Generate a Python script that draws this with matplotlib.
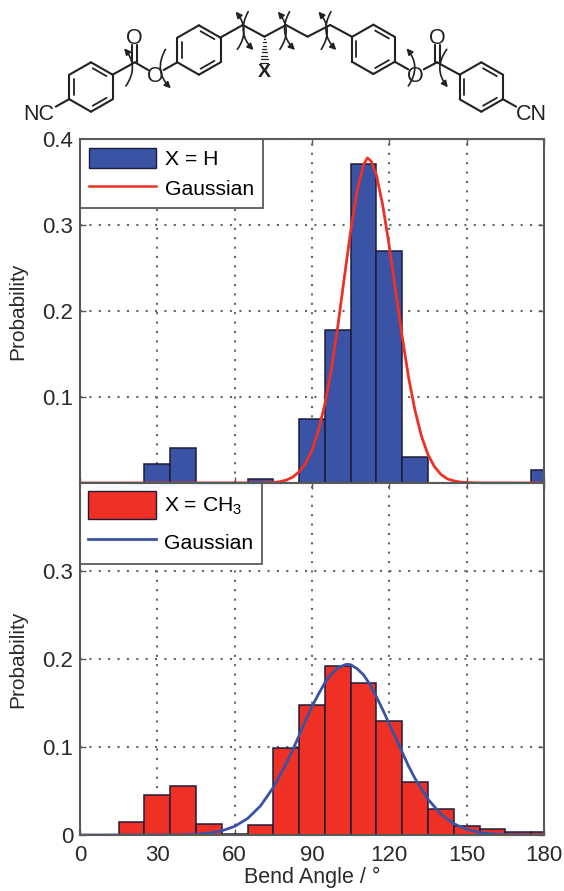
import numpy as np
import matplotlib
matplotlib.use('Agg')
import matplotlib.pyplot as plt
from matplotlib.patches import FancyArrowPatch, Patch
from matplotlib.lines import Line2D

plt.rcParams['font.family'] = ['Liberation Sans', 'DejaVu Sans']
plt.rcParams['mathtext.fontset'] = 'custom'
plt.rcParams['mathtext.rm'] = 'Liberation Sans'

BLUE = '#3a53a4'
RED = '#ee3124'
EDGE = '#1c1c3a'
GREY = '#5a5a5a'
INK = '#2a2a2a'

# histogram, X = H
h_centers = [30, 40, 70, 90, 100, 110, 120, 130, 180]
h_probs = [0.022, 0.041, 0.005, 0.074, 0.178, 0.371, 0.270, 0.030, 0.015]

# histogram, X = CH3
me_centers = [20, 30, 40, 50, 60, 70, 80, 90, 100, 110, 120, 130, 140, 150, 160, 170, 180]
me_probs = [0.015, 0.045, 0.056, 0.013, 0.001, 0.011, 0.099, 0.148, 0.192, 0.173,
            0.129, 0.060, 0.030, 0.010, 0.007, 0.003, 0.003]

# gaussian curves
h_gx = [0, 70, 75, 77.5, 80, 82.5, 85, 87.5, 90, 92.5, 95, 97.5, 100, 102.5, 105, 107.5,
        110, 111.5, 113, 115, 117.5, 120, 122.5, 125, 127.5, 130, 132.5, 135, 137.5, 140,
        142.5, 145, 147.5, 150, 155, 180]
h_gy = [0, 0.0001, 0.0007, 0.0015, 0.0033, 0.0068, 0.013, 0.0226, 0.038, 0.061, 0.092,
        0.132, 0.182, 0.238, 0.293, 0.340, 0.370, 0.378, 0.374, 0.358, 0.322, 0.275, 0.222,
        0.170, 0.122, 0.084, 0.054, 0.033, 0.019, 0.010, 0.0048, 0.0025, 0.0011,
        0.0005, 0.0001, 0]

me_gx = [0, 30, 40, 45, 50, 55, 60, 65, 70, 75, 80, 82.5, 85, 87.5, 90, 92.5, 95, 97.5,
         100, 102.5, 103.5, 105, 107.5, 110, 112.5, 115, 117.5, 120, 122.5, 125, 127.5,
         130, 135, 140, 145, 150, 155, 160, 165, 170, 180]
me_gy = [0, 0.00004, 0.0003, 0.0009, 0.0021, 0.0047, 0.0098, 0.0187, 0.033, 0.054, 0.081,
         0.0967, 0.113, 0.130, 0.146, 0.160, 0.173, 0.183, 0.190, 0.193, 0.194, 0.1935,
         0.189, 0.182, 0.171, 0.157, 0.142, 0.126, 0.110, 0.094, 0.078, 0.064, 0.0406,
         0.0237, 0.0128, 0.0064, 0.003, 0.0013, 0.0005, 0.0002, 0]

x_ticks = [0, 30, 60, 90, 120, 150, 180]
x_labels = ['0', '30', '60', '90', '120', '150', '180']
W, H = 564, 891


def rect(x0, y0, x1, y1):
    return [x0 / W, 1 - y1 / H, (x1 - x0) / W, (y1 - y0) / H]


def panel(ax, centers, probs, gx, gy, bar_col, line_col, yticks, ylabels):
    ax.bar(centers, probs, width=10, color=bar_col, edgecolor=EDGE, lw=1.1, zorder=2)
    ax.plot(gx, gy, color=line_col, lw=2, zorder=3)
    ax.set_xlim(0, 180)
    ax.set_ylim(0, 0.4)
    ax.set_xticks(x_ticks)
    ax.set_yticks(yticks)
    ax.set_yticklabels(ylabels, fontsize=16, color=INK)
    ax.grid(True, color='#666666', lw=1.5, ls=(0, (1, 3.5)), zorder=1)
    ax.set_axisbelow(True)
    ax.tick_params(direction='in', top=True, right=True, length=4, width=1,
                   color=GREY, pad=5)
    for s in ax.spines.values():
        s.set_color(GREY)
        s.set_linewidth(1.5)
        s.set_zorder(5)
    ax.set_ylabel('Probability', fontsize=15, color=INK)
    return ax


fig = plt.figure(figsize=(W / 100, H / 100), dpi=100)

ax1 = fig.add_axes(rect(80, 139, 544, 483))
panel(ax1, h_centers, h_probs, h_gx, h_gy, BLUE, RED,
      [0.1, 0.2, 0.3, 0.4], ['0.1', '0.2', '0.3', '0.4'])
ax1.set_xticklabels([])
ax1.yaxis.set_label_coords(-0.114, 0.5)
leg1 = ax1.legend(handles=[Patch(facecolor=BLUE, edgecolor=EDGE, label='X = H'),
                           Line2D([], [], color=RED, lw=1.8, label='Gaussian')],
                  loc='upper left', borderaxespad=0, fancybox=False, framealpha=1,
                  edgecolor=GREY, fontsize=15.2, handlelength=3.2, handleheight=1.1,
                  handletextpad=0.42, labelspacing=0.4, borderpad=0.42)
leg1.get_frame().set_linewidth(1.3)
leg1.set_zorder(4)

ax2 = fig.add_axes(rect(80, 483, 544, 835))
panel(ax2, me_centers, me_probs, me_gx, me_gy, RED, BLUE,
      [0, 0.1, 0.2, 0.3], ['0', '0.1', '0.2', '0.3'])
ax2.set_xticklabels(x_labels, fontsize=16, color=INK)
ax2.tick_params(axis='x', pad=7)
ax2.set_xlabel('Bend Angle / °', fontsize=15.5, color=INK, labelpad=1)
ax2.yaxis.set_label_coords(-0.114, 0.5)
leg2 = ax2.legend(handles=[Patch(facecolor=RED, edgecolor=EDGE, label='X = CH$_3$'),
                           Line2D([], [], color=BLUE, lw=2, label='Gaussian')],
                  loc='upper left', borderaxespad=0, fancybox=False, framealpha=1,
                  edgecolor=GREY, fontsize=15.2, handlelength=3.2, handleheight=1.65,
                  handletextpad=0.42, labelspacing=0.45, borderpad=0.38)
leg2.get_frame().set_linewidth(1.3)
leg2.set_zorder(4)

# molecule, in pixels of the enlarged crop (x and y scaled differently)
mol = fig.add_axes([0, 0, 1, 1], facecolor='none')
mol.set_xlim(0, W * 2.78)
mol.set_ylim(H * 3, 0)
mol.axis('off')
mol.set_zorder(10)


def bond(p, q, lw=1.5):
    mol.plot([p[0], q[0]], [p[1], q[1]], color='#222222', lw=lw, solid_capstyle='round')


def ring(cx, cy, dbl):
    pts = [(cx, cy - 74), (cx + 60, cy - 37), (cx + 60, cy + 37),
           (cx, cy + 74), (cx - 60, cy + 37), (cx - 60, cy - 37)]
    for i in range(6):
        bond(pts[i], pts[(i + 1) % 6])
    for i in dbl:
        a, b = np.array(pts[i]), np.array(pts[(i + 1) % 6])
        c = np.array([cx, cy])
        a2 = a + (c - a) * 0.2 + (b - a) * 0.08
        b2 = b + (c - b) * 0.2 + (a - b) * 0.08
        bond(a2, b2, 1.3)


ring(253, 261, [0, 2, 4])
ring(553, 150, [0, 2, 4])
ring(1038, 148, [0, 2, 4])
ring(1338, 261, [0, 2, 4])

chain = [(612, 113), (675, 75), (735, 110), (795, 75), (855, 110), (918, 75), (978, 110)]
for a, b in zip(chain[:-1], chain[1:]):
    bond(a, b)

bond((193, 297), (155, 320))
bond((313, 224), (375, 187))
bond((375, 187), (412, 210))
bond((455, 210), (493, 187))
bond((368, 187), (368, 135))
bond((382, 187), (382, 135))
bond((1097, 185), (1135, 208))
bond((1178, 208), (1215, 187))
bond((1208, 187), (1208, 135))
bond((1222, 187), (1222, 135))
bond((1215, 187), (1278, 224))
bond((1397, 297), (1435, 320))

# hashed wedge to X
for frac in np.linspace(0, 1, 8):
    w = 2 + 9 * frac
    y = 116 + 72 * frac
    bond((735 - w, y), (735 + w, y), 0.9)

txt = dict(fontsize=15.5, color='#222222', ha='center', va='center')
mol.text(108, 342, 'NC', **txt)
mol.text(373, 116, 'O', **txt)
mol.text(432, 230, 'O', **txt)
mol.text(735, 218, 'X', fontsize=14, fontweight='bold', color='#222222', ha='center', va='center')
mol.text(1155, 230, 'O', **txt)
mol.text(1216, 116, 'O', **txt)
mol.text(1478, 342, 'CN', **txt)

# torsion arrows: start, end, bend
arcs = [((350, 258), (345, 145), 0.38), ((460, 148), (475, 265), 0.38),
        ((660, 148), (655, 35), 0.38), ((690, 35), (705, 150), 0.38),
        ((778, 148), (772, 35), 0.38), ((805, 35), (820, 150), 0.38),
        ((893, 148), (885, 35), 0.38), ((920, 35), (935, 150), 0.38),
        ((1135, 258), (1130, 145), 0.38), ((1242, 148), (1245, 262), 0.38)]
for p, q, rad in arcs:
    mol.add_patch(FancyArrowPatch(p, q, connectionstyle=f'arc3,rad={rad}', arrowstyle='-|>',
                                  mutation_scale=9, lw=1.2, color='#222222',
                                  shrinkA=0, shrinkB=0))

fig.savefig('out.png', dpi=100)
